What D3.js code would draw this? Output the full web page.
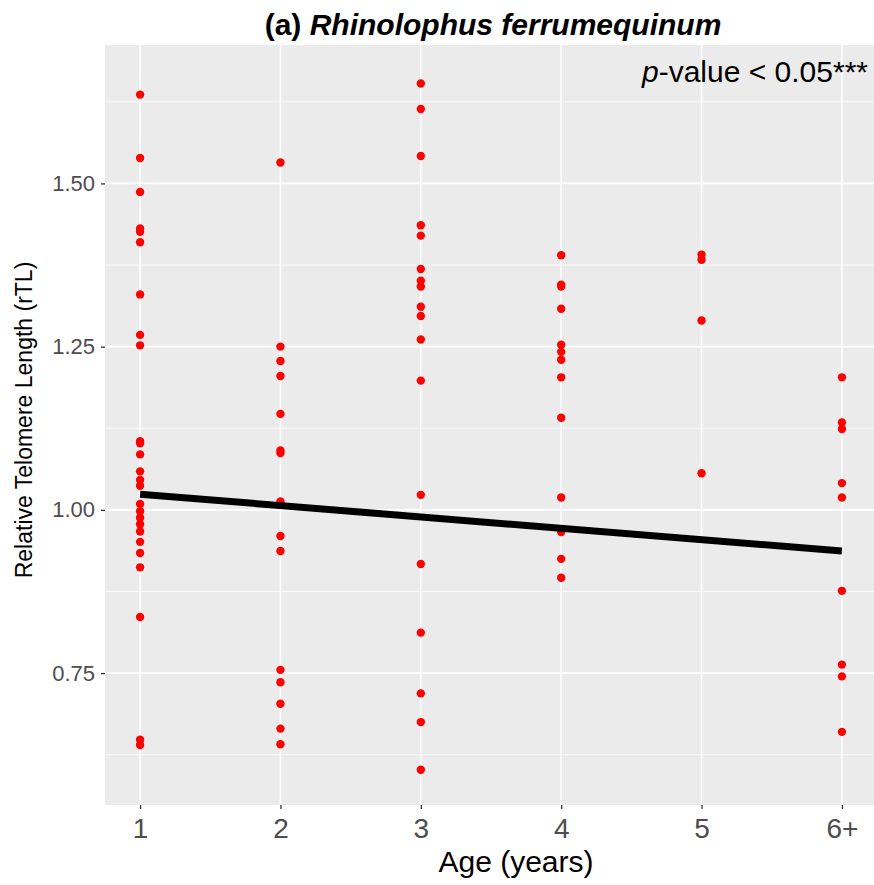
<!DOCTYPE html>
<html>
<head>
<meta charset="utf-8">
<script src="https://cdn.jsdelivr.net/npm/d3@7"></script>
<style>
  body { margin: 0; background: #fff; }
  svg { display: block; font-family: "Liberation Sans", Arial, sans-serif; }
</style>
</head>
<body>
<svg id="chart"></svg>
<script>
// age groups on the x axis (6 = "6+")
const ageTicks = [1, 2, 3, 4, 5, 6];
const ageLabels = ["1", "2", "3", "4", "5", "6+"];

// rTL values, one list per age group
const age1 = [1.636, 1.539, 1.487, 1.431, 1.426, 1.410, 1.330, 1.268, 1.252,
  1.105, 1.102, 1.085, 1.059, 1.046, 1.037, 1.009, 0.998, 0.988, 0.978,
  0.967, 0.951, 0.934, 0.912, 0.836, 0.648, 0.640];
const age2 = [1.532, 1.250, 1.228, 1.205, 1.147, 1.091, 1.087, 1.013, 0.960,
  0.937, 0.755, 0.736, 0.703, 0.665, 0.641];
const age3 = [1.653, 1.614, 1.542, 1.436, 1.420, 1.369, 1.351, 1.342, 1.311,
  1.297, 1.261, 1.198, 1.023, 0.917, 0.812, 0.719, 0.675, 0.602];
const age4 = [1.390, 1.345, 1.342, 1.308, 1.253, 1.242, 1.230, 1.203, 1.141,
  1.019, 0.966, 0.925, 0.896];
const age5 = [1.391, 1.383, 1.290, 1.056];
const age6 = [1.203, 1.134, 1.124, 1.041, 1.019, 0.876, 0.763, 0.745, 0.660];

// fitted regression line, ends at age 1 and age 6
const fitAges = [1, 6];
const fitValues = [1.024, 0.937];

const yTicks = [0.75, 1.00, 1.25, 1.50];
const yMinor = [0.625, 0.875, 1.125, 1.375, 1.625];
const yDomain = [0.548, 1.712];
const xDomain = [0.75, 6.25];

const groups = [age1, age2, age3, age4, age5, age6];
const points = [];
groups.forEach((vals, i) => vals.forEach(v => points.push({ age: ageTicks[i], rtl: v })));

const width = 874, height = 885;
const margin = { top: 45, right: -3, bottom: 80, left: 105 };
const innerW = width - margin.left - margin.right;
const innerH = height - margin.top - margin.bottom;

const svg = d3.select("#chart").attr("width", width).attr("height", height);

const x = d3.scaleLinear().domain(xDomain).range([margin.left, margin.left + innerW]);
const y = d3.scaleLinear().domain(yDomain).range([margin.top + innerH, margin.top]);

// panel
svg.append("rect")
  .attr("x", margin.left).attr("y", margin.top)
  .attr("width", innerW).attr("height", innerH)
  .attr("fill", "#ebebeb");

const grid = svg.append("g");
grid.selectAll(".minor")
  .data(yMinor)
  .enter().append("line")
  .attr("x1", margin.left).attr("x2", margin.left + innerW)
  .attr("y1", d => y(d)).attr("y2", d => y(d))
  .attr("stroke", "#fff").attr("stroke-width", 0.8);
grid.selectAll(".major-y")
  .data(yTicks)
  .enter().append("line")
  .attr("x1", margin.left).attr("x2", margin.left + innerW)
  .attr("y1", d => y(d)).attr("y2", d => y(d))
  .attr("stroke", "#fff").attr("stroke-width", 1.6);
grid.selectAll(".major-x")
  .data(ageTicks)
  .enter().append("line")
  .attr("x1", d => x(d)).attr("x2", d => x(d))
  .attr("y1", margin.top).attr("y2", margin.top + innerH)
  .attr("stroke", "#fff").attr("stroke-width", 1.6);

// points
svg.append("g")
  .selectAll("circle")
  .data(points)
  .enter().append("circle")
  .attr("cx", d => x(d.age))
  .attr("cy", d => y(d.rtl))
  .attr("r", 4.2)
  .attr("fill", "#ff0000");

// regression line
const line = d3.line().x(d => x(d[0])).y(d => y(d[1]));
svg.append("path")
  .datum(d3.zip(fitAges, fitValues))
  .attr("d", line)
  .attr("fill", "none")
  .attr("stroke", "#000")
  .attr("stroke-width", 7);

// axes
const yAxis = d3.axisLeft(y).tickValues(yTicks).tickFormat(d3.format(".2f")).tickSize(4).tickPadding(6);
const gy = svg.append("g").attr("transform", `translate(${margin.left},0)`).call(yAxis);
gy.select(".domain").remove();
gy.selectAll("line").attr("stroke", "#333").attr("stroke-width", 1.3);
gy.selectAll("text").attr("fill", "#4d4d4d").style("font-size", "22px");

const xAxis = d3.axisBottom(x).tickValues(ageTicks).tickFormat((d, i) => ageLabels[i]).tickSize(4).tickPadding(9);
const gx = svg.append("g").attr("transform", `translate(0,${margin.top + innerH})`).call(xAxis);
gx.select(".domain").remove();
gx.selectAll("line").attr("stroke", "#333").attr("stroke-width", 1.3);
gx.selectAll("text").attr("fill", "#4d4d4d").style("font-size", "28px");

// axis titles
svg.append("text")
  .attr("x", 516).attr("y", 872)
  .attr("text-anchor", "middle")
  .style("font-size", "30px")
  .text("Age (years)");

svg.append("text")
  .attr("transform", `translate(32,${margin.top + innerH / 2 - 5}) rotate(-90)`)
  .attr("text-anchor", "middle")
  .style("font-size", "23px")
  .text("Relative Telomere Length (rTL)");

// title
const title = svg.append("text")
  .attr("x", 493).attr("y", 35)
  .attr("text-anchor", "middle")
  .style("font-size", "30px")
  .style("font-weight", "bold");
title.append("tspan").text("(a) ");
title.append("tspan").style("font-style", "italic").text("Rhinolophus ferrumequinum");

// p-value annotation
const note = svg.append("text")
  .attr("x", 868).attr("y", 82)
  .attr("text-anchor", "end")
  .style("font-size", "30px");
note.append("tspan").style("font-style", "italic").text("p");
note.append("tspan").text("-value < 0.05***");
</script>
</body>
</html>
